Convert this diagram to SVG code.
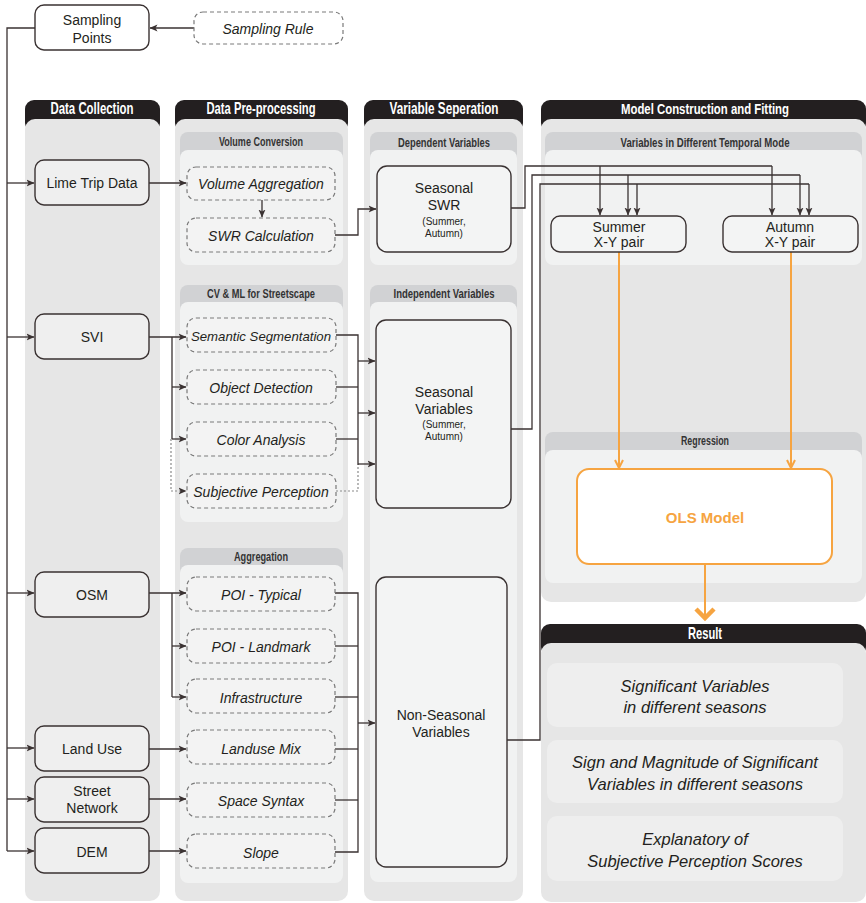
<svg xmlns="http://www.w3.org/2000/svg" width="866" height="903" viewBox="0 0 866 903">
<defs>
<style>
.hdr{fill:#231f20}
.col{fill:#e6e6e6}
.band{fill:#d1d2d4}
.sub{fill:#f1f2f2}
.box{fill:#efefef;stroke:#3a3232;stroke-width:1.4}
.wbox{fill:#ffffff;stroke:#3a3232;stroke-width:1.4}
.sbox{fill:#f3f4f4;stroke:#3a3232;stroke-width:1.4}
.dbox{fill:#f3f3f3;stroke:#7a7a7a;stroke-width:1.2;stroke-dasharray:4 3}
.rbox{fill:#eeeeee}
.t{font-family:"Liberation Sans","DejaVu Sans",sans-serif;font-size:14px;fill:#231f20;text-anchor:middle}
.ti{font-family:"Liberation Sans","DejaVu Sans",sans-serif;font-size:14px;font-style:italic;fill:#231f20;text-anchor:middle}
.ts{font-family:"Liberation Sans","DejaVu Sans",sans-serif;font-size:10px;fill:#231f20;text-anchor:middle}
.tr{font-family:"Liberation Sans","DejaVu Sans",sans-serif;font-size:16.5px;font-style:italic;fill:#231f20;text-anchor:middle}
.th{font-family:"Liberation Sans","DejaVu Sans",sans-serif;font-size:17px;font-weight:bold;fill:#ffffff;text-anchor:middle}
.tb{font-family:"Liberation Sans","DejaVu Sans",sans-serif;font-size:13px;font-weight:bold;fill:#333333;text-anchor:middle}
.c{fill:none;stroke:#3a3232;stroke-width:1.3}
.cd{fill:none;stroke:#8a8a8a;stroke-width:1.2;stroke-dasharray:2 2}
.co{fill:none;stroke:#f6a441;stroke-width:2}
</style>
<marker id="ah" viewBox="0 0 8 8" refX="7.5" refY="4" markerWidth="8" markerHeight="8" markerUnits="userSpaceOnUse" orient="auto">
<path d="M0,0.5 L8,4 L0,7.5 L2,4 z" fill="#3a3232"/>
</marker>
<marker id="ao" viewBox="0 0 10 10" refX="9" refY="5" markerWidth="10" markerHeight="10" markerUnits="userSpaceOnUse" orient="auto">
<path d="M1,1 L9,5 L1,9" fill="none" stroke="#f6a441" stroke-width="2"/>
</marker>
</defs>
<rect width="866" height="903" fill="#ffffff"/>

<!-- Columns -->
<g id="col-data-collection">
<rect class="hdr" x="25" y="100" width="135" height="32" rx="9"/>
<rect class="col" x="25" y="119" width="135" height="782" rx="10"/>
<text class="th" x="92" y="114" textLength="83" lengthAdjust="spacingAndGlyphs">Data Collection</text>
</g>
<g id="col-preprocessing">
<rect class="hdr" x="175" y="100" width="173" height="32" rx="9"/>
<rect class="col" x="175" y="119" width="173" height="782" rx="10"/>
<text class="th" x="261" y="114" textLength="109" lengthAdjust="spacingAndGlyphs">Data Pre-processing</text>
<rect class="band" x="180" y="132" width="163" height="40" rx="8"/>
<rect class="sub" x="180" y="150" width="163" height="115" rx="8"/>
<text class="tb" x="261" y="146" textLength="84" lengthAdjust="spacingAndGlyphs">Volume Conversion</text>
<rect class="band" x="180" y="285" width="163" height="40" rx="8"/>
<rect class="sub" x="180" y="302" width="163" height="220" rx="8"/>
<text class="tb" x="261" y="298" textLength="108" lengthAdjust="spacingAndGlyphs">CV &amp; ML for Streetscape</text>
<rect class="band" x="180" y="548" width="163" height="40" rx="8"/>
<rect class="sub" x="180" y="565" width="163" height="318" rx="8"/>
<text class="tb" x="261" y="561" textLength="54" lengthAdjust="spacingAndGlyphs">Aggregation</text>
</g>
<g id="col-variable-separation">
<rect class="hdr" x="364" y="100" width="159" height="32" rx="9"/>
<rect class="col" x="364" y="119" width="159" height="782" rx="10"/>
<text class="th" x="444" y="114" textLength="109" lengthAdjust="spacingAndGlyphs">Variable Seperation</text>
<rect class="band" x="370" y="132" width="147" height="40" rx="8"/>
<rect class="sub" x="370" y="150" width="147" height="115" rx="8"/>
<text class="tb" x="444" y="147" textLength="92" lengthAdjust="spacingAndGlyphs">Dependent Variables</text>
<rect class="band" x="370" y="285" width="147" height="40" rx="8"/>
<rect class="sub" x="370" y="302" width="147" height="580" rx="8"/>
<text class="tb" x="444" y="298" textLength="101" lengthAdjust="spacingAndGlyphs">Independent Variables</text>
</g>
<g id="col-model">
<rect class="hdr" x="541" y="100" width="325" height="32" rx="9"/>
<rect class="col" x="541" y="119" width="325" height="483" rx="10"/>
<text class="th" x="705" y="114" textLength="168" lengthAdjust="spacingAndGlyphs" style="font-size:15.5px">Model Construction and Fitting</text>
<rect class="band" x="545" y="132" width="317" height="40" rx="8"/>
<rect class="sub" x="545" y="150" width="317" height="115" rx="8"/>
<text class="tb" x="705" y="147" textLength="169" lengthAdjust="spacingAndGlyphs">Variables in Different Temporal Mode</text>
<rect class="band" x="545" y="432" width="317" height="40" rx="8"/>
<rect class="sub" x="545" y="450" width="317" height="133" rx="8"/>
<text class="tb" x="705" y="445" textLength="48" lengthAdjust="spacingAndGlyphs">Regression</text>
</g>
<g id="col-result">
<rect class="hdr" x="541" y="624" width="325" height="32" rx="9"/>
<rect class="col" x="541" y="643" width="325" height="259" rx="10"/>
<text class="th" x="705" y="639" textLength="34" lengthAdjust="spacingAndGlyphs">Result</text>
</g>

<!-- Connectors -->
<g id="connectors">
<path class="c" d="M35,28 H7 V851"/>
<path class="c" d="M7,183 H34" marker-end="url(#ah)"/>
<path class="c" d="M7,337 H34" marker-end="url(#ah)"/>
<path class="c" d="M7,593 H34" marker-end="url(#ah)"/>
<path class="c" d="M7,748 H34" marker-end="url(#ah)"/>
<path class="c" d="M7,799 H34" marker-end="url(#ah)"/>
<path class="c" d="M7,851 H34" marker-end="url(#ah)"/>
<path class="c" d="M194,28 H150" marker-end="url(#ah)"/>
<path class="c" d="M149,183 H186" marker-end="url(#ah)"/>
<path class="c" d="M262,200 V217" marker-end="url(#ah)"/>
<path class="c" d="M335,235 H358 V209 H376" marker-end="url(#ah)"/>
<path class="c" d="M149,337 H186" marker-end="url(#ah)"/>
<path class="c" d="M172,337 V439"/>
<path class="c" d="M172,387 H186" marker-end="url(#ah)"/>
<path class="c" d="M172,439 H186" marker-end="url(#ah)"/>
<path class="cd" d="M171,439 V491 H186" marker-end="url(#ah)"/>
<path class="c" d="M336,335 H358 V465"/>
<path class="c" d="M336,387 H358"/>
<path class="c" d="M336,439 H358"/>
<path class="cd" d="M336,491 H358 V465"/>
<path class="c" d="M358,361 H375" marker-end="url(#ah)"/>
<path class="c" d="M358,413 H375" marker-end="url(#ah)"/>
<path class="c" d="M358,464 H375" marker-end="url(#ah)"/>
<path class="c" d="M149,593 H186" marker-end="url(#ah)"/>
<path class="c" d="M172,593 V697"/>
<path class="c" d="M172,646 H186" marker-end="url(#ah)"/>
<path class="c" d="M172,697 H186" marker-end="url(#ah)"/>
<path class="c" d="M149,749 H186" marker-end="url(#ah)"/>
<path class="c" d="M149,799 H186" marker-end="url(#ah)"/>
<path class="c" d="M149,851 H186" marker-end="url(#ah)"/>
<path class="c" d="M335,593 H358 V852 H335"/>
<path class="c" d="M335,646 H358"/>
<path class="c" d="M335,697 H358"/>
<path class="c" d="M335,749 H358"/>
<path class="c" d="M335,800 H358"/>
<path class="c" d="M358,723 H375" marker-end="url(#ah)"/>
<path class="c" d="M511,208 H525 V166 H772"/>
<path class="c" d="M600,166 V215" marker-end="url(#ah)"/>
<path class="c" d="M772,166 V215" marker-end="url(#ah)"/>
<path class="c" d="M511,429 H532 V175 H800"/>
<path class="c" d="M628,175 V215" marker-end="url(#ah)"/>
<path class="c" d="M800,175 V215" marker-end="url(#ah)"/>
<path class="c" d="M507,740 H540 V184 H809"/>
<path class="c" d="M637,184 V215" marker-end="url(#ah)"/>
<path class="c" d="M809,184 V215" marker-end="url(#ah)"/>
<path class="co" d="M619,252 V468" marker-end="url(#ao)"/>
<path class="co" d="M791,252 V468" marker-end="url(#ao)"/>
<path class="co" d="M705,564 V618"/>
<path d="M696,609 L705,618 L714,609" fill="none" stroke="#f6a441" stroke-width="4.5"/>
</g>

<!-- Nodes -->
<g id="sampling-points"><rect class="wbox" x="35" y="5" width="114" height="45" rx="9"/><text class="t" x="92" y="25">Sampling</text><text class="t" x="92" y="43">Points</text></g>
<g id="sampling-rule"><rect class="dbox" x="194" y="12" width="149" height="32" rx="9" style="fill:#ffffff"/><text class="ti" x="268" y="34">Sampling Rule</text></g>

<g id="lime-trip-data"><rect class="box" x="35" y="160" width="114" height="45" rx="9"/><text class="t" x="92" y="188">Lime Trip Data</text></g>
<g id="svi"><rect class="box" x="35" y="314" width="114" height="45" rx="9"/><text class="t" x="92" y="342">SVI</text></g>
<g id="osm"><rect class="box" x="35" y="572" width="114" height="45" rx="9"/><text class="t" x="92" y="600">OSM</text></g>
<g id="land-use"><rect class="box" x="35" y="726" width="114" height="45" rx="9"/><text class="t" x="92" y="754">Land Use</text></g>
<g id="street-network"><rect class="box" x="35" y="777" width="114" height="45" rx="9"/><text class="t" x="92" y="796">Street</text><text class="t" x="92" y="813">Network</text></g>
<g id="dem"><rect class="box" x="35" y="828" width="114" height="45" rx="9"/><text class="t" x="92" y="857">DEM</text></g>

<g id="volume-aggregation"><rect class="dbox" x="187" y="167" width="148" height="33" rx="9"/><text class="ti" x="261" y="189">Volume Aggregation</text></g>
<g id="swr-calculation"><rect class="dbox" x="187" y="218" width="148" height="34" rx="9"/><text class="ti" x="261" y="241">SWR Calculation</text></g>
<g id="semantic-segmentation"><rect class="dbox" x="187" y="318" width="149" height="34" rx="9"/><text class="ti" x="261" y="341" style="font-size:13.2px">Semantic Segmentation</text></g>
<g id="object-detection"><rect class="dbox" x="187" y="370" width="149" height="34" rx="9"/><text class="ti" x="261" y="393">Object Detection</text></g>
<g id="color-analysis"><rect class="dbox" x="187" y="422" width="149" height="34" rx="9"/><text class="ti" x="261" y="445">Color Analysis</text></g>
<g id="subjective-perception"><rect class="dbox" x="187" y="474" width="149" height="34" rx="9"/><text class="ti" x="261" y="497">Subjective Perception</text></g>
<g id="poi-typical"><rect class="dbox" x="187" y="577" width="148" height="34" rx="9"/><text class="ti" x="261" y="600">POI - Typical</text></g>
<g id="poi-landmark"><rect class="dbox" x="187" y="629" width="148" height="34" rx="9"/><text class="ti" x="261" y="652">POI - Landmark</text></g>
<g id="infrastructure"><rect class="dbox" x="187" y="679" width="148" height="34" rx="9"/><text class="ti" x="261" y="703">Infrastructure</text></g>
<g id="landuse-mix"><rect class="dbox" x="187" y="730" width="148" height="34" rx="9"/><text class="ti" x="261" y="754">Landuse Mix</text></g>
<g id="space-syntax"><rect class="dbox" x="187" y="783" width="148" height="34" rx="9"/><text class="ti" x="261" y="806">Space Syntax</text></g>
<g id="slope"><rect class="dbox" x="187" y="834" width="148" height="34" rx="9"/><text class="ti" x="261" y="858">Slope</text></g>

<g id="seasonal-swr"><rect class="sbox" x="377" y="166" width="134" height="86" rx="10"/><text class="t" x="444" y="193">Seasonal</text><text class="t" x="444" y="210">SWR</text><text class="ts" x="444" y="225">(Summer,</text><text class="ts" x="444" y="237">Autumn)</text></g>
<g id="seasonal-variables"><rect class="sbox" x="376" y="320" width="135" height="188" rx="10"/><text class="t" x="444" y="397">Seasonal</text><text class="t" x="444" y="414">Variables</text><text class="ts" x="444" y="428">(Summer,</text><text class="ts" x="444" y="440">Autumn)</text></g>
<g id="non-seasonal-variables"><rect class="sbox" x="376" y="577" width="131" height="290" rx="10"/><text class="t" x="441" y="720">Non-Seasonal</text><text class="t" x="441" y="737">Variables</text></g>

<g id="summer-pair"><rect class="sbox" x="551" y="216" width="135" height="36" rx="9"/><text class="t" x="619" y="232">Summer</text><text class="t" x="619" y="247">X-Y pair</text></g>
<g id="autumn-pair"><rect class="sbox" x="723" y="216" width="135" height="36" rx="9"/><text class="t" x="790" y="232">Autumn</text><text class="t" x="790" y="247">X-Y pair</text></g>
<g id="ols-model"><rect x="577" y="469" width="255" height="95" rx="12" fill="#ffffff" stroke="#f6a441" stroke-width="2"/><text class="t" x="705" y="523" style="fill:#f6a441;font-weight:bold;font-size:15px">OLS Model</text></g>

<g id="result-1"><rect class="rbox" x="547" y="663" width="296" height="64" rx="10"/><text class="tr" x="695" y="692">Significant Variables</text><text class="tr" x="695" y="713">in different seasons</text></g>
<g id="result-2"><rect class="rbox" x="547" y="740" width="296" height="63" rx="10"/><text class="tr" x="695" y="768">Sign and Magnitude of Significant</text><text class="tr" x="695" y="790">Variables in different seasons</text></g>
<g id="result-3"><rect class="rbox" x="547" y="816" width="296" height="65" rx="10"/><text class="tr" x="695" y="845">Explanatory of</text><text class="tr" x="695" y="867">Subjective Perception Scores</text></g>
</svg>
